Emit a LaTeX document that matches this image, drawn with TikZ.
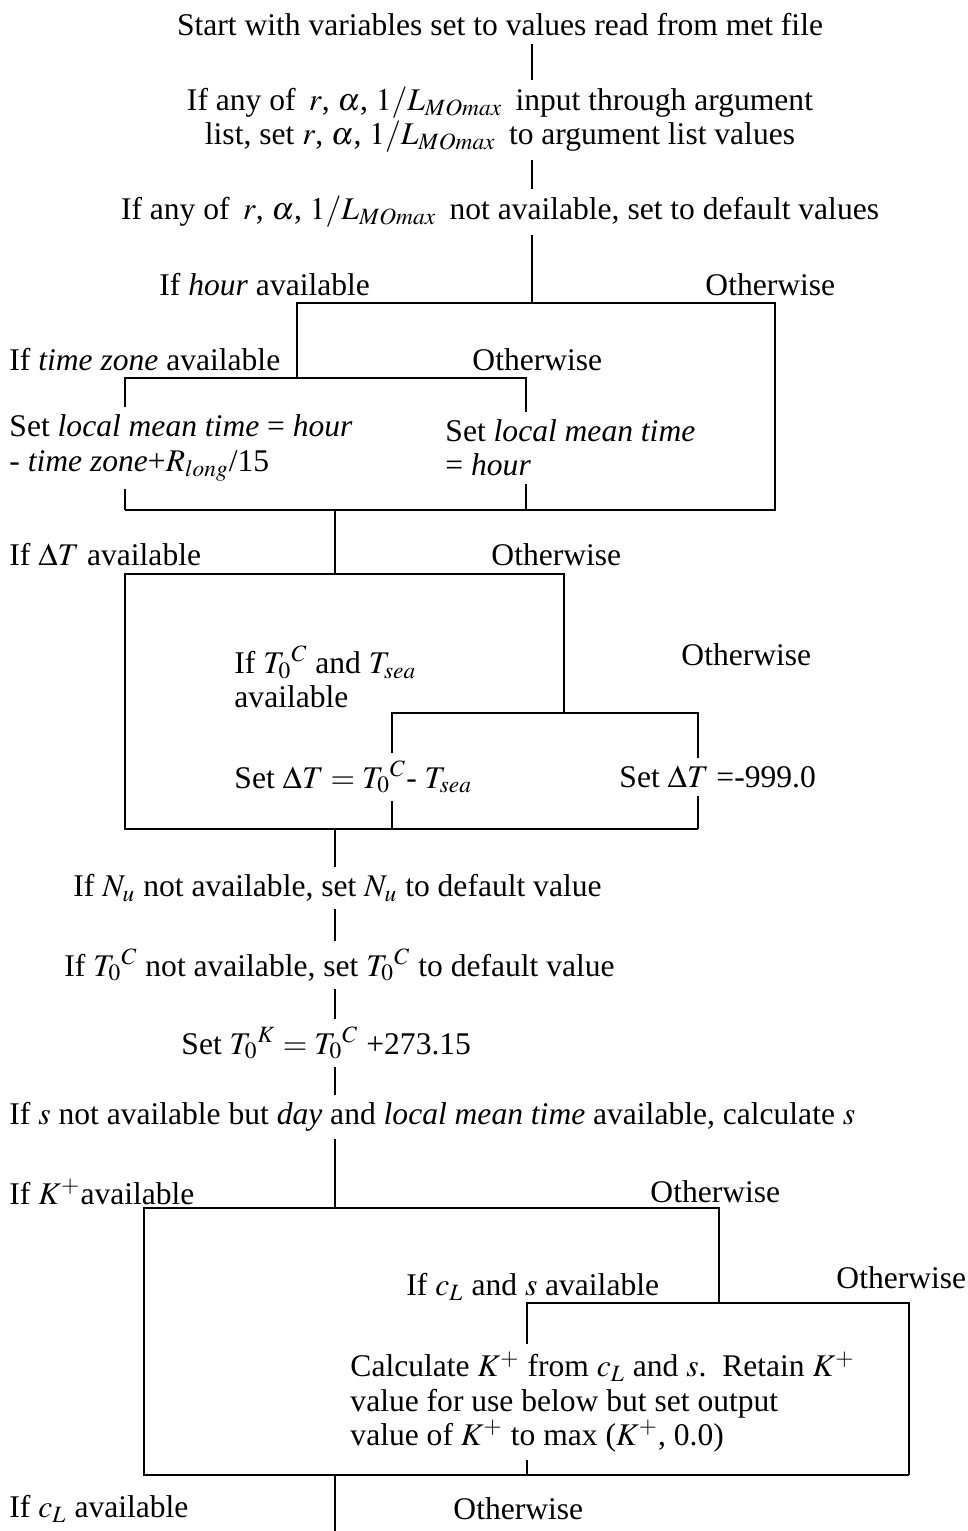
\documentclass[tikz,border=0pt]{standalone}
\usepackage{mathptmx}
\usepackage{fontspec}
\setmainfont{Liberation Serif}
\usetikzlibrary{calc}
\tikzset{
  rule/.style={draw=black, line width=0.8pt},
  note/.style={font=\fontsize{13.2}{14.3}\selectfont, inner xsep=0pt, inner ysep=3pt, anchor=west, align=left},
  head/.style={font=\fontsize{13.2}{14.3}\selectfont, inner sep=3pt, align=center},
}

\begin{document}
\begin{tikzpicture}[x=0.147mm, y=-0.147mm]
  \useasboundingbox (0,0) rectangle (968,1531);
  % trunk positions
  \coordinate (ta) at (532,0);
  \coordinate (tb) at (335,0);

  % Opening steps
  \node[head] (start) at (500,25) {Start with variables set to values read from met file};
  \node[head] (args) at (500,120) {If any of \,$r$, $\alpha$, $1/L_{MOmax}$\, input through argument\\list, set $r$, $\alpha$, $1/L_{MOmax}$\, to argument list values};
  \node[head] (dflt) at (500,212) {If any of \,$r$, $\alpha$, $1/L_{MOmax}$\, not available, set to default values};
  \draw[rule] (start.south -| ta) -- (args.north -| ta);
  \draw[rule] (args.south -| ta) -- (dflt.north -| ta);
  \draw[rule] (dflt.south -| ta) -- (532,303);

  % Hour block
  \node[note] (hourY) at (159,285) {If \textit{hour} available};
  \node[note] (hourN) at (705,285) {Otherwise};
  \draw[rule] (297,378) -- (297,303) -- (775,303) -- (775,510) -- (125,510);
  \node[note] (tzY) at (9,360) {If \textit{time zone} available};
  \node[note] (tzN) at (472,360) {Otherwise};
  \node[note] (lmt1) at (9,448) {Set \textit{local mean time} = \textit{hour}\\- \textit{time zone}+$R_{long}$/15};
  \node[note] (lmt2) at (445,448) {Set \textit{local mean time}\\= \textit{hour}};
  \coordinate (la) at (125,378);
  \coordinate (lb) at (526,378);
  \draw[rule] (la |- lmt1.north) -- (la) -- (lb) -- (lb |- lmt2.north);
  \draw[rule] (la |- lmt1.south) -- (125,510);
  \draw[rule] (lb |- lmt2.south) -- (526,510);
  \draw[rule] (335,510) -- (335,574);

  % Delta T block
  \node[note] (dtY) at (9,555) {If $\Delta T$ available};
  \node[note] (dtN) at (491,555) {Otherwise};
  \draw[rule] (564,713) -- (564,574) -- (125,574) -- (125,829) -- (698,829);
  \node[note] (tsY) at (234,677) {If $T_0{}^C$ and $T_{sea}$\\available};
  \node[note] (tsN) at (681,655) {Otherwise};
  \node[note] (dt1) at (234,777) {Set $\Delta T = T_0{}^C$- $T_{sea}$};
  \node[note] (dt2) at (619,777) {Set $\Delta T$ =-999.0};
  \coordinate (ma) at (392,713);
  \coordinate (mb) at (698,713);
  \draw[rule] (ma |- dt1.north) -- (ma) -- (mb) -- (mb |- dt2.north);
  \draw[rule] (ma |- dt1.south) -- (392,829);
  \draw[rule] (mb |- dt2.south) -- (698,829);

  % Defaults and sun angle
  \node[note] (nu) at (73,888) {If $N_u$ not available, set $N_u$ to default value};
  \node[note] (tc) at (64,965) {If $T_0{}^C$ not available, set $T_0{}^C$ to default value};
  \node[note] (tk) at (181,1043) {Set $T_0{}^K = T_0{}^C$ +273.15};
  \node[note] (sa) at (9,1117) {If $s$ not available but \textit{day} and \textit{local mean time} available, calculate $s$};
  \draw[rule] (335,829) -- (nu.north -| tb);
  \draw[rule] (nu.south -| tb) -- (tc.north -| tb);
  \draw[rule] (tc.south -| tb) -- (tk.north -| tb);
  \draw[rule] (tk.south -| tb) -- (sa.north -| tb);
  \draw[rule] (sa.south -| tb) -- (335,1208);

  % K+ block
  \node[note] (kY) at (9,1192) {If $K^+$available};
  \node[note] (kN) at (650,1192) {Otherwise};
  \draw[rule] (719,1303) -- (719,1208) -- (144,1208) -- (144,1475) -- (909,1475);
  \node[note] (clY) at (406,1287) {If $c_L$ and $s$ available};
  \node[note] (clN) at (836,1278) {Otherwise};
  \node[note] (calc) at (350,1402) {Calculate $K^+$ from $c_L$ and $s$.\ \ Retain $K^+$\\value for use below but set output\\value of $K^+$ to max ($K^+$, 0.0)};
  \coordinate (ka) at (527,1303);
  \coordinate (kb) at (909,1303);
  \draw[rule] (ka |- calc.north) -- (ka) -- (kb) -- (909,1475);
  \draw[rule] (ka |- calc.south) -- (527,1475);
  \draw[rule] (335,1475) -- (335,1531);

  % Cloud block
  \node[note] (cY) at (9,1509) {If $c_L$ available};
  \node[note] (cN) at (453,1509) {Otherwise};
\end{tikzpicture}
\end{document}
